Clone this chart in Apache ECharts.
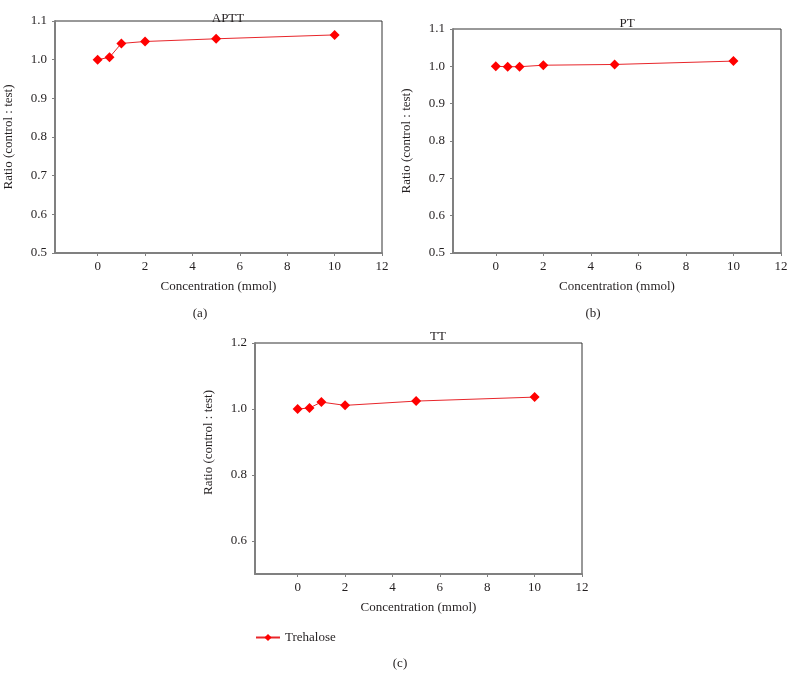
<!DOCTYPE html>
<html>
<head>
<meta charset="utf-8">
<script src="https://cdn.jsdelivr.net/npm/echarts@6/dist/echarts.min.js"></script>
<style>html,body{margin:0;padding:0;background:#fff}#c{width:794px;height:674px}</style>
</head>
<body>
<div id="c"></div>
<script>
// ---- data ----
var concentrations = [0, 0.5, 1, 2, 5, 10];
var apttRatio = [1.000, 1.006, 1.042, 1.047, 1.054, 1.064];
var ptRatio   = [1.000, 0.999, 0.999, 1.003, 1.005, 1.014];
var ttRatio   = [1.000, 1.003, 1.021, 1.011, 1.024, 1.036];
var xTicks = [0, 2, 4, 6, 8, 10, 12];
var yTicksAB = [0.5, 0.6, 0.7, 0.8, 0.9, 1.0, 1.1];
var yTicksC = [0.6, 0.8, 1.0, 1.2];
var panelTitles = ['APTT', 'PT', 'TT'];
var panelLetters = ['(a)', '(b)', '(c)'];
var seriesName = 'Trehalose';
var xName = 'Concentration (mmol)';
var yName = 'Ratio (control : test)';

var FONT = 'Liberation Serif';
var TXT = {fontFamily: FONT, fontSize: 13, color: '#231f20'};

function pairs(ys) { return concentrations.map(function (x, i) { return [x, ys[i]]; }); }

function xAxis(gi) {
  return {
    type: 'value', gridIndex: gi, min: -1.8, max: 12,
    name: xName, nameLocation: 'middle', nameGap: 27,
    nameTextStyle: TXT,
    axisLine: {show: true, onZero: false, lineStyle: {color: '#808080', width: 2}},
    axisTick: {show: true, inside: false, length: 3, customValues: xTicks, lineStyle: {color: '#808080'}},
    axisLabel: Object.assign({customValues: xTicks, margin: 7}, TXT),
    splitLine: {show: false}
  };
}
function yAxis(gi, ticks, max, nameShift) {
  return {
    type: 'value', gridIndex: gi, min: 0.5, max: max,
    name: yName, nameLocation: 'middle', nameGap: 40, nameRotate: 90,
    nameTextStyle: Object.assign({padding: nameShift}, TXT),
    axisLine: {show: true, onZero: false, lineStyle: {color: '#808080', width: 2}},
    axisTick: {show: true, inside: false, length: 3, customValues: ticks, lineStyle: {color: '#808080'}},
    axisLabel: Object.assign({customValues: ticks, margin: 8, formatter: function (v) { return v.toFixed(1); }}, TXT),
    splitLine: {show: false}
  };
}
function series(gi, ys) {
  return {
    name: seriesName, type: 'line', xAxisIndex: gi, yAxisIndex: gi,
    data: pairs(ys), symbol: 'diamond', symbolSize: 10,
    lineStyle: {color: '#e8262b', width: 1},
    itemStyle: {color: '#ff0000'},
    z: 3
  };
}

var chart = echarts.init(document.getElementById('c'), null, {renderer: 'canvas'});
chart.setOption({
  animation: false,
  backgroundColor: '#ffffff',
  title: [
    {text: panelTitles[0], left: 223, top: 7, textAlign: 'center', textStyle: Object.assign({fontWeight: 'normal'}, TXT)},
    {text: panelTitles[1], left: 622, top: 12, textAlign: 'center', textStyle: Object.assign({fontWeight: 'normal'}, TXT)},
    {text: panelTitles[2], left: 433, top: 325, textAlign: 'center', textStyle: Object.assign({fontWeight: 'normal'}, TXT)},
    {text: panelLetters[0], left: 195, top: 302, textAlign: 'center', textStyle: Object.assign({fontWeight: 'normal'}, TXT)},
    {text: panelLetters[1], left: 588, top: 302, textAlign: 'center', textStyle: Object.assign({fontWeight: 'normal'}, TXT)},
    {text: panelLetters[2], left: 395, top: 652, textAlign: 'center', textStyle: Object.assign({fontWeight: 'normal'}, TXT)}
  ],
  legend: {
    data: [seriesName], left: 250, top: 626, itemWidth: 24, itemHeight: 9, itemGap: 6,
    textStyle: TXT
  },
  grid: [
    {left: 55, top: 21, width: 327, height: 232, show: true, borderColor: '#333', borderWidth: 1, containLabel: false},
    {left: 453, top: 29, width: 328, height: 224, show: true, borderColor: '#333', borderWidth: 1, containLabel: false},
    {left: 255, top: 343, width: 327, height: 231, show: true, borderColor: '#333', borderWidth: 1, containLabel: false}
  ],
  xAxis: [xAxis(0), xAxis(1), xAxis(2)],
  yAxis: [yAxis(0, yTicksAB, 1.1, 0), yAxis(1, yTicksAB, 1.1, 0), yAxis(2, yTicksC, 1.2, [0, 0, 0, 32])],
  series: [series(0, apttRatio), series(1, ptRatio), series(2, ttRatio)]
});
</script>
</body>
</html>
